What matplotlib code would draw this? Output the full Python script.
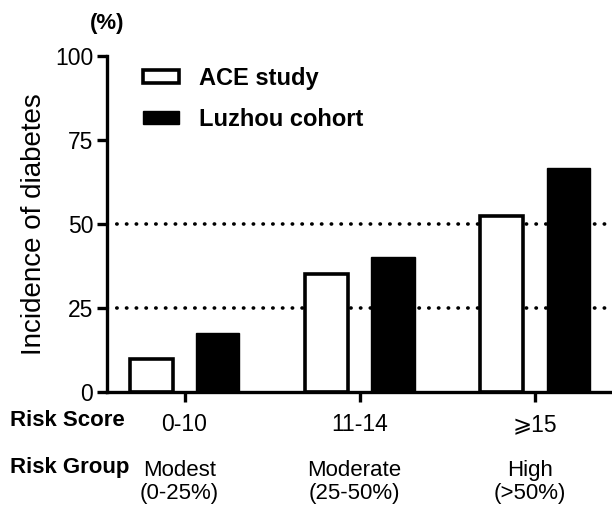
import matplotlib
matplotlib.use("Agg")
import matplotlib.pyplot as plt
from matplotlib.patches import Patch
from matplotlib.transforms import blended_transform_factory
import numpy as np

plt.rcParams['font.family'] = ['Liberation Sans', 'DejaVu Sans']

score_labels = ["0-10", "11-14", "\u2a7e15"]
group_labels = ["Modest\n(0-25%)", "Moderate\n(25-50%)", "High\n(>50%)"]
series_names = ["ACE study", "Luzhou cohort"]
ace_values = [10.0, 35.1, 52.4]
luzhou_values = [17.6, 40.2, 66.7]
yticks = [0, 25, 50, 75, 100]
ref_lines = [25, 50]

fig = plt.figure(figsize=(6.12, 5.12), dpi=100)
ax = fig.add_axes([0.175, 0.234, 0.822, 0.657])

x = np.arange(len(score_labels))
w = 0.246
off = 0.19

for yv in ref_lines:
    ax.axhline(yv, color='black', linestyle=(0, (0.1, 2.6)), linewidth=2.6,
               dash_capstyle='round', zorder=1)

ax.bar(x - off, ace_values, width=w, facecolor='white', edgecolor='black',
       linewidth=2.6, zorder=2, label=series_names[0])
ax.bar(x + off, luzhou_values, width=w, facecolor='black', edgecolor='black',
       linewidth=1, zorder=2, label=series_names[1])

ax.set_xlim(-0.442, 2.43)
ax.set_ylim(0, 100)
ax.set_yticks(yticks)
ax.set_yticklabels([str(v) for v in yticks], fontsize=16.5)
ax.set_xticks(x)
ax.set_xticklabels(score_labels, fontsize=16.5)
ax.tick_params(axis='both', width=2.4, length=7, direction='out')
ax.tick_params(axis='x', pad=8)
ax.tick_params(axis='y', pad=3)

for s in ['top', 'right']:
    ax.spines[s].set_visible(False)
for s in ['left', 'bottom']:
    ax.spines[s].set_linewidth(2.4)

ax.set_ylabel("Incidence of diabetes", fontsize=20, labelpad=6)

trans = blended_transform_factory(ax.transData, fig.transFigure)
for xi, g in zip(x, group_labels):
    ax.text(xi - 0.03, 1 - 482 / 512, g, transform=trans, ha='center', va='center',
            fontsize=16, linespacing=1.15)

fig.text(10 / 612, 1 - 421 / 512, "Risk Score", fontsize=16, fontweight='bold',
         ha='left', va='center')
fig.text(10 / 612, 1 - 467 / 512, "Risk Group", fontsize=16, fontweight='bold',
         ha='left', va='center')
fig.text(107 / 612, 1 - 24 / 512, "(%)", fontsize=16, fontweight='bold',
         ha='center', va='center')

handles = [Patch(facecolor='white', edgecolor='black', linewidth=2.6),
           Patch(facecolor='black', edgecolor='black')]
ax.legend(handles, series_names, loc='upper left', bbox_to_anchor=(0.03, 1.03),
          frameon=False, prop={'weight': 'bold', 'size': 17},
          handlelength=1.5, handleheight=0.45, labelspacing=0.75, handletextpad=0.85)

fig.savefig("out.png", dpi=100)
